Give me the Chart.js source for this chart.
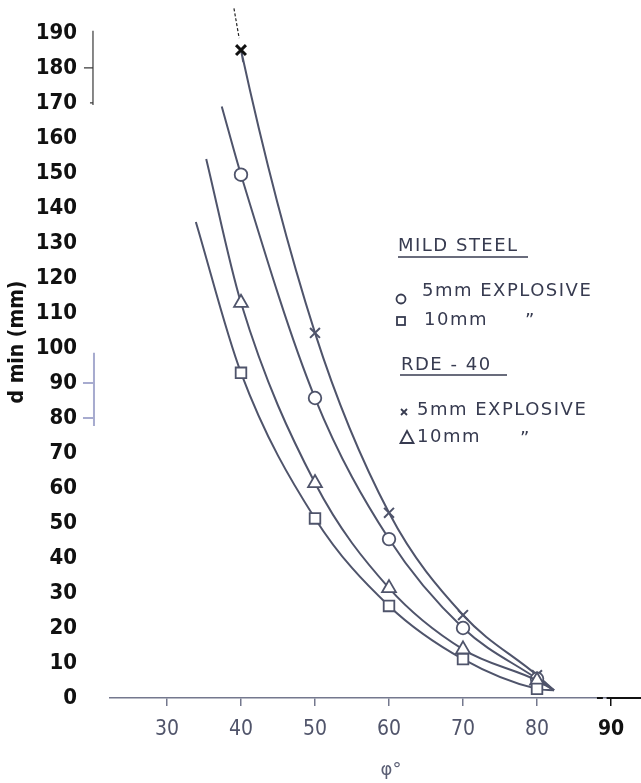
<!DOCTYPE html>
<html>
<head>
<meta charset="utf-8">
<script src="https://cdn.jsdelivr.net/npm/chart.js@4"></script>
<style>
html,body{margin:0;padding:0;background:#fff;}
#c{display:block;}
</style>
</head>
<body>
<canvas id="c" width="641" height="783"></canvas>
<script>
// ---- data ----
const phi = [40, 50, 60, 70, 80];                    // φ (degrees)
const mildSteel5  = [149.5, 85.7, 45.4, 20.0, 5.5];   // ○ mild steel, 5mm explosive
const mildSteel10 = [92.9, 51.3, 26.3, 11.1, 2.6];    // □ mild steel, 10mm
const rde5        = [185.1, 104.3, 52.9, 23.7, 6.5];  // x RDE-40, 5mm explosive
const rde10       = [112.9, 61.4, 31.4, 13.9, 5.0];   // △ RDE-40, 10mm

// where each drawn curve starts (upper left) and ends (lower right)
const curveStart = { ms5: [37.4, 169], ms10: [33.9, 136], rde5: [40.3, 181.7], rde10: [35.3, 154] };
const curveEnd = [82.3, 2.2];
// short dashed stub above the top x marker
const rdeDashPhi = [39.05, 39.75];
const rdeDashD   = [197, 188.5];

const xTicks = [30, 40, 50, 60, 70, 80, 90];
const yTicks = [0,10,20,30,40,50,60,70,80,90,100,110,120,130,140,150,160,170,180,190];

const LINE = '#4f546b';
const isNinety = c => !!(c && c.tick && c.tick.value === 90);

function curve(start, ys) {
  const pts = [{x: start[0], y: start[1]}];
  phi.forEach((p, i) => pts.push({x: p, y: ys[i]}));
  pts.push({x: curveEnd[0], y: curveEnd[1]});
  return pts;
}
function radii(r) { return [0, r, r, r, r, r, 0]; }

const datasets = [
  { data: curve(curveStart.ms10, mildSteel10), pointStyle: 'rect', pointRadius: radii(7.5) },
  { data: curve(curveStart.rde10, rde10), pointStyle: 'triangle', pointRadius: radii(8) },
  { data: curve(curveStart.ms5, mildSteel5), pointStyle: 'circle', pointRadius: radii(6.3) },
  { data: curve(curveStart.rde5, rde5), pointStyle: 'crossRot', pointRadius: radii(7),
    pointBorderColor: ['#111', '#111', LINE, LINE, LINE, LINE, LINE],
    pointBorderWidth: [2, 3, 2, 2, 2, 2, 2] },
  { data: rdeDashPhi.map((p, i) => ({x: p, y: rdeDashD[i]})), pointRadius: 0,
    borderColor: '#222', borderWidth: 1.2, borderDash: [3, 2], tension: 0 }
].map(d => Object.assign({
  showLine: true,
  borderColor: LINE,
  borderWidth: 2,
  pointBorderColor: LINE,
  pointBackgroundColor: '#fff',
  pointBorderWidth: 1.8,
  cubicInterpolationMode: 'monotone',
  clip: false
}, d));

const deco = {
  id: 'deco',
  afterDraw(chart) {
    const ctx = chart.ctx;
    const xs = chart.scales.x, ys = chart.scales.y;
    const px = v => xs.getPixelForValue(v), py = v => ys.getPixelForValue(v);
    ctx.save();
    // fragments of the scanned y-axis line
    const x20 = px(20);
    ctx.strokeStyle = '#3a3a3a'; ctx.lineWidth = 1.2;
    ctx.beginPath();
    ctx.moveTo(x20, py(190.6)); ctx.lineTo(x20, py(169.4));
    ctx.moveTo(x20 - 9, py(180)); ctx.lineTo(x20, py(180));
    ctx.moveTo(x20 - 3, py(170)); ctx.lineTo(x20, py(170));
    ctx.stroke();
    ctx.strokeStyle = '#a7abcf'; ctx.lineWidth = 2;
    ctx.beginPath();
    ctx.moveTo(x20 + 1, py(98.6)); ctx.lineTo(x20 + 1, py(77.7));
    ctx.moveTo(x20 - 10, py(90)); ctx.lineTo(x20 + 1, py(90));
    ctx.moveTo(x20 - 10, py(80)); ctx.lineTo(x20 + 1, py(80));
    ctx.stroke();
    // darker end of the x-axis line
    const y0 = py(0);
    ctx.strokeStyle = '#111'; ctx.lineWidth = 2;
    ctx.beginPath();
    ctx.moveTo(px(88.1), y0); ctx.lineTo(px(88.9), y0);
    ctx.moveTo(px(89.4), y0); ctx.lineTo(chart.width, y0);
    ctx.stroke();

    // axis titles
    ctx.fillStyle = '#111';
    ctx.font = 'bold 21px "DejaVu Sans Condensed", "DejaVu Sans", sans-serif';
    ctx.textAlign = 'center'; ctx.textBaseline = 'middle';
    ctx.translate(18, 342); ctx.rotate(-Math.PI / 2);
    ctx.fillText('d min (mm)', 0, 0);
    ctx.setTransform(1, 0, 0, 1, 0, 0);
    ctx.fillStyle = '#5a5e74';
    ctx.font = '18px "DejaVu Sans", sans-serif';
    ctx.fillText('φ°', 391, 770);

    // legend
    const T = '#373b50';
    ctx.fillStyle = T; ctx.strokeStyle = T;
    ctx.textAlign = 'left';
    ctx.font = '18px "DejaVu Sans", sans-serif';
    ctx.letterSpacing = '1.5px';
    const txt = (s, x, y) => ctx.fillText(s, x, y);
    txt('MILD STEEL', 398, 246);
    ctx.lineWidth = 1.6;
    ctx.beginPath(); ctx.moveTo(398, 257); ctx.lineTo(528, 257); ctx.stroke();
    txt('5mm EXPLOSIVE', 422, 291);
    txt('10mm', 424, 320);
    txt('”', 525, 321);
    txt('RDE - 40', 401, 365);
    ctx.beginPath(); ctx.moveTo(400, 375); ctx.lineTo(507, 375); ctx.stroke();
    txt('5mm EXPLOSIVE', 417, 410);
    txt('10mm', 417, 437);
    txt('”', 520, 439);
    ctx.letterSpacing = '0px';
    // legend markers
    ctx.lineWidth = 1.8;
    ctx.beginPath(); ctx.arc(401, 299, 4.5, 0, Math.PI * 2); ctx.stroke();
    ctx.strokeRect(397, 317, 8, 8);
    ctx.beginPath();
    ctx.moveTo(401, 409); ctx.lineTo(407, 415);
    ctx.moveTo(407, 409); ctx.lineTo(401, 415);
    ctx.stroke();
    ctx.beginPath();
    ctx.moveTo(407, 431); ctx.lineTo(413.5, 443); ctx.lineTo(400.5, 443); ctx.closePath(); ctx.stroke();
    ctx.restore();
  }
};

new Chart(document.getElementById('c'), {
  type: 'scatter',
  data: { datasets },
  options: {
    responsive: false,
    devicePixelRatio: 1,
    animation: false,
    events: [],
    layout: { padding: 0, autoPadding: false },
    plugins: { legend: { display: false }, tooltip: { enabled: false } },
    scales: {
      x: {
        type: 'linear', min: 22.3, max: 94.05,
        afterFit: s => { s.height = 85; s.paddingLeft = 0; s.paddingRight = 0; s.paddingTop = 0; s.paddingBottom = 0; },
        afterBuildTicks: s => { s.ticks = xTicks.map(v => ({value: v})); },
        border: { display: true, color: '#74788e', width: 1.5 },
        grid: { display: true, drawOnChartArea: false, drawTicks: true, tickLength: 8,
                lineWidth: 1.5, color: c => isNinety(c) ? '#111' : '#74788e' },
        ticks: {
          padding: 11, maxRotation: 0, autoSkip: false,
          color: c => isNinety(c) ? '#111' : '#50546a',
          font: c => ({ family: '"DejaVu Sans Condensed", "DejaVu Sans", sans-serif', size: 21,
                        weight: isNinety(c) ? 'bold' : 'normal' })
        }
      },
      y: {
        type: 'linear', min: 0, max: 199.4,
        afterFit: s => { s.width = 110; s.paddingTop = 0; s.paddingBottom = 0; s.paddingLeft = 0; s.paddingRight = 0; },
        afterBuildTicks: s => { s.ticks = yTicks.map(v => ({value: v})); },
        border: { display: false },
        grid: { display: false, drawTicks: false },
        ticks: {
          padding: 33, autoSkip: false,
          color: '#111',
          font: { family: '"DejaVu Sans Condensed", "DejaVu Sans", sans-serif', size: 22, weight: 'bold' }
        }
      }
    }
  },
  plugins: [deco]
});
</script>
</body>
</html>
